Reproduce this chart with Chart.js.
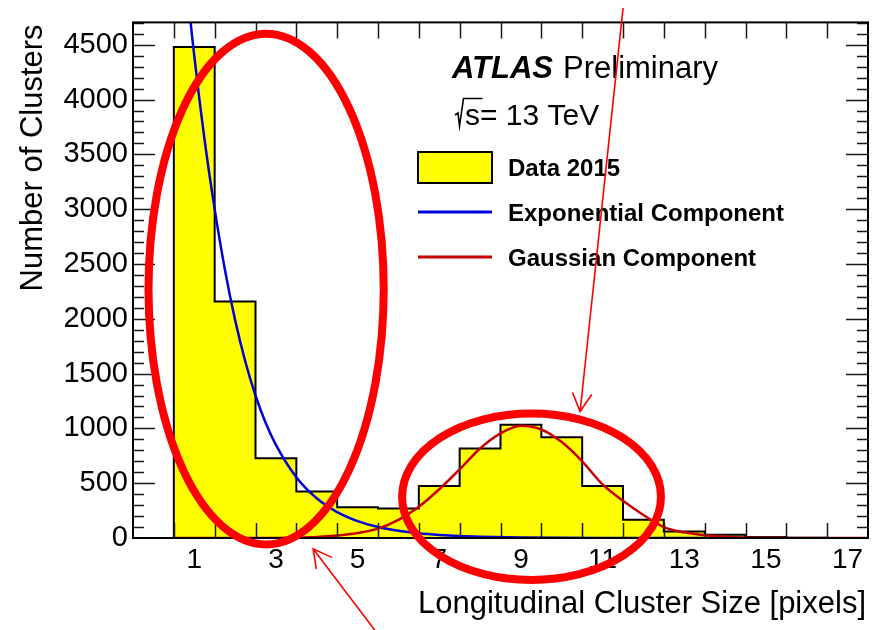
<!DOCTYPE html>
<html>
<head>
<meta charset="utf-8">
<title>Longitudinal Cluster Size</title>
<script src="https://cdn.jsdelivr.net/npm/chart.js@4.4.1/dist/chart.umd.min.js"></script>
<style>
  html, body { margin: 0; padding: 0; background: #ffffff; }
  #wrap { width: 877px; height: 630px; }
</style>
</head>
<body>
<div id="wrap"><canvas id="c" width="877" height="630"></canvas></div>
<script>
// Histogram: longitudinal cluster size (pixels) and number of clusters per bin
const binCenters    = [1, 2, 3, 4, 5, 6, 7, 8, 9, 10, 11, 12, 13, 14, 15, 16, 17];
const clusterCounts = [4480, 2158, 728, 425, 280, 270, 474, 816, 1033, 920, 474, 166, 60, 30, 10, 3, 1];

// Exponential component of the fit
const expFitX = [0.5, 0.75, 1.0, 1.25, 1.5, 1.75, 2.0, 2.25, 2.5, 2.75, 3.0, 3.5, 4.0, 4.5, 5.0, 5.5, 6.0, 6.5, 7.0, 7.5, 8.0, 9.0, 10.0, 11.0, 12.0, 13.0, 14.0];
const expFitY = [6400, 5300, 4400, 3640, 3000, 2450, 1990, 1610, 1300, 1050, 850, 555, 362, 236, 154, 100, 66, 43, 28, 18, 12, 5, 2, 1, 0, 0, 0];

// Gaussian component of the fit
const gausFitX = [0.5, 1.0, 1.5, 2.0, 2.5, 3.0, 3.5, 4.0, 4.5, 5.0, 5.5, 6.0, 6.5, 7.0, 7.5, 8.0, 8.5, 9.0, 9.5, 10.0, 10.5, 11.0, 11.5, 12.0, 12.5, 13.0, 13.5, 14.0, 14.5, 15.0, 15.5, 16.0, 16.5, 17.0, 17.5];
const gausFitY = [0, 0, 0, 0, 0, 1, 4, 10, 22, 45, 85, 165, 285, 445, 626, 817, 955, 1025, 990, 875, 700, 489, 340, 210, 100, 52, 25, 12, 5, 2, 1, 0, 0, 0, 0];

// Axis tick labels
const xTickValues = [1, 3, 5, 7, 9, 11, 13, 15, 17];
const yTickValues = [0, 500, 1000, 1500, 2000, 2500, 3000, 3500, 4000, 4500];

const seriesNames = ['Data 2015', 'Exponential Component', 'Gaussian Component'];
const xTitle = 'Longitudinal Cluster Size [pixels]';
const yTitle = 'Number of Clusters';

const FONT = "'Liberation Sans', Arial, Helvetica, sans-serif";
const HIST_FILL = '#ffff00';
const EXP_COLOR = '#0000d8';
const GAUS_COLOR = '#c80000';

// y range in the ROOT style: 5% head-room above the tallest bin
const yMax = Math.max(...clusterCounts) * 1.05;

// Step outline of the histogram built from bin centres (unit-width bins)
const histOutline = [{ x: binCenters[0] - 0.5, y: 0 }];
binCenters.forEach((c, i) => {
  histOutline.push({ x: c - 0.5, y: clusterCounts[i] });
  histOutline.push({ x: c + 0.5, y: clusterCounts[i] });
});
histOutline.push({ x: binCenters[binCenters.length - 1] + 0.5, y: 0 });

const toPoints = (xs, ys) => xs.map((v, i) => ({ x: v, y: ys[i] }));

// Inner tick marks on all four sides plus the frame
const rootFrame = {
  id: 'rootFrame',
  afterDatasetsDraw(chart) {
    const { ctx, chartArea: a, scales: { x, y } } = chart;
    ctx.save();
    ctx.strokeStyle = '#1a1a1a';
    ctx.lineWidth = 1.5;
    ctx.beginPath();
    binCenters.forEach(c => {
      const e = c - 0.5;
      if (e <= x.min) return;
      const px = Math.round(x.getPixelForValue(e)) + 0.5;
      ctx.moveTo(px, a.bottom); ctx.lineTo(px, a.bottom - 15);
      ctx.moveTo(px, a.top); ctx.lineTo(px, a.top + 16);
    });
    for (let v = 100; v < y.max; v += 100) {
      const py = Math.round(y.getPixelForValue(v)) + 0.5;
      const len = v % 500 === 0 ? 22 : 11;
      ctx.moveTo(a.left, py); ctx.lineTo(a.left + len, py);
      ctx.moveTo(a.right, py); ctx.lineTo(a.right - len, py);
    }
    ctx.stroke();
    ctx.lineWidth = 2;
    ctx.strokeStyle = '#000';
    ctx.strokeRect(a.left, a.top, a.right - a.left, a.bottom - a.top);
    ctx.restore();
  }
};

// Axis titles, experiment label and legend
const labelsAndLegend = {
  id: 'labelsAndLegend',
  afterDraw(chart) {
    const { ctx, chartArea: a } = chart;
    const ds = chart.data.datasets;
    ctx.save();
    ctx.fillStyle = '#000';
    ctx.textBaseline = 'alphabetic';

    ctx.font = `31px ${FONT}`;
    ctx.textAlign = 'right';
    ctx.fillText(xTitle, a.right - 2, 613);
    ctx.save();
    ctx.translate(42, a.top + 2);
    ctx.rotate(-Math.PI / 2);
    ctx.fillText(yTitle, 0, 0);
    ctx.restore();

    ctx.textAlign = 'left';
    ctx.font = `italic bold 31px ${FONT}`;
    ctx.fillText('ATLAS', 452, 78);
    ctx.font = `31px ${FONT}`;
    ctx.fillText('Preliminary', 563, 78);

    // sqrt(s) = 13 TeV
    ctx.strokeStyle = '#000';
    ctx.lineWidth = 1.6;
    ctx.beginPath();
    ctx.moveTo(455, 115); ctx.lineTo(458, 113); ctx.lineTo(459.5, 126);
    ctx.lineTo(463.5, 98.5); ctx.lineTo(482.5, 98.5);
    ctx.stroke();
    ctx.font = `30px ${FONT}`;
    ctx.fillText('s= 13 TeV', 465, 125);

    // legend
    const boxL = 418, boxR = 492;
    ctx.fillStyle = ds[0].backgroundColor;
    ctx.fillRect(boxL, 152, boxR - boxL, 31);
    ctx.lineWidth = 2;
    ctx.strokeStyle = '#000';
    ctx.strokeRect(boxL, 152, boxR - boxL, 31);

    ctx.lineWidth = 3;
    ctx.strokeStyle = ds[1].borderColor;
    ctx.beginPath(); ctx.moveTo(boxL, 212); ctx.lineTo(boxR, 212); ctx.stroke();
    ctx.strokeStyle = ds[2].borderColor;
    ctx.beginPath(); ctx.moveTo(boxL, 257); ctx.lineTo(boxR, 257); ctx.stroke();

    ctx.fillStyle = '#000';
    ctx.font = `bold 24px ${FONT}`;
    ctx.textBaseline = 'middle';
    ctx.fillText(seriesNames[0], 508, 169);
    ctx.fillText(seriesNames[1], 508, 214);
    ctx.fillText(seriesNames[2], 508, 259);
    ctx.restore();
  }
};

// Red hand-drawn highlight rings and arrows, placed in data coordinates
const highlightRings = [
  { cx: 2.76, cy: 2271, rx: 2.88, ry: 2330 },
  { cx: 9.26, cy: 376, rx: 3.17, ry: 760 }
];
const highlightArrows = [
  { from: [11.50, 4830], to: [10.45, 1154] },
  { from: [5.43, -845], to: [3.91, -98] }
];
const markup = {
  id: 'markup',
  afterDraw(chart) {
    const { ctx, scales: { x, y } } = chart;
    ctx.save();
    ctx.strokeStyle = '#ff0000';
    ctx.lineWidth = 8;
    highlightRings.forEach(r => {
      const cx = x.getPixelForValue(r.cx), cy = y.getPixelForValue(r.cy);
      const rx = Math.abs(x.getPixelForValue(r.cx + r.rx) - cx);
      const ry = Math.abs(y.getPixelForValue(r.cy + r.ry) - cy);
      ctx.beginPath();
      ctx.ellipse(cx, cy, rx, ry, 0, 0, Math.PI * 2);
      ctx.stroke();
    });
    ctx.lineWidth = 1.6;
    ctx.lineCap = 'round';
    highlightArrows.forEach(ar => {
      const x0 = x.getPixelForValue(ar.from[0]), y0 = y.getPixelForValue(ar.from[1]);
      const x1 = x.getPixelForValue(ar.to[0]), y1 = y.getPixelForValue(ar.to[1]);
      const ang = Math.atan2(y0 - y1, x0 - x1);
      const head = 20, spread = 28 * Math.PI / 180;
      ctx.beginPath();
      ctx.moveTo(x0, y0); ctx.lineTo(x1, y1);
      ctx.moveTo(x1 + head * Math.cos(ang - spread), y1 + head * Math.sin(ang - spread));
      ctx.lineTo(x1, y1);
      ctx.lineTo(x1 + head * Math.cos(ang + spread), y1 + head * Math.sin(ang + spread));
      ctx.stroke();
    });
    ctx.restore();
  }
};

new Chart(document.getElementById('c'), {
  type: 'line',
  data: {
    datasets: [
      {
        label: seriesNames[0],
        data: histOutline,
        borderColor: '#000',
        borderWidth: 2,
        backgroundColor: HIST_FILL,
        fill: 'origin',
        pointRadius: 0,
        tension: 0,
        order: 3
      },
      {
        label: seriesNames[1],
        data: toPoints(expFitX, expFitY),
        borderColor: EXP_COLOR,
        borderWidth: 2.5,
        fill: false,
        pointRadius: 0,
        cubicInterpolationMode: 'monotone',
        order: 2
      },
      {
        label: seriesNames[2],
        data: toPoints(gausFitX, gausFitY),
        borderColor: GAUS_COLOR,
        borderWidth: 2.5,
        fill: false,
        pointRadius: 0,
        cubicInterpolationMode: 'monotone',
        order: 1
      }
    ]
  },
  options: {
    responsive: false,
    animation: false,
    devicePixelRatio: 1,
    layout: { padding: { top: 12, right: 9, left: 0, bottom: 0 } },
    plugins: { legend: { display: false }, tooltip: { enabled: false } },
    scales: {
      x: {
        type: 'linear',
        min: -0.5,
        max: 17.5,
        afterFit(s) { s.height = 92; },
        afterBuildTicks(s) { s.ticks = xTickValues.map(v => ({ value: v })); },
        ticks: {
          font: { family: FONT, size: 28 },
          color: '#000',
          padding: 5,
          autoSkip: false,
          maxRotation: 0,
          callback: v => String(v)
        },
        grid: { display: false, drawTicks: false },
        border: { display: false }
      },
      y: {
        min: 0,
        max: yMax,
        afterFit(s) { s.width = 133; },
        afterBuildTicks(s) { s.ticks = yTickValues.map(v => ({ value: v })); },
        ticks: {
          font: { family: FONT, size: 29 },
          color: '#000',
          padding: 5,
          autoSkip: false,
          callback: v => String(v)
        },
        grid: { display: false, drawTicks: false },
        border: { display: false }
      }
    }
  },
  plugins: [rootFrame, labelsAndLegend, markup]
});
</script>
</body>
</html>
